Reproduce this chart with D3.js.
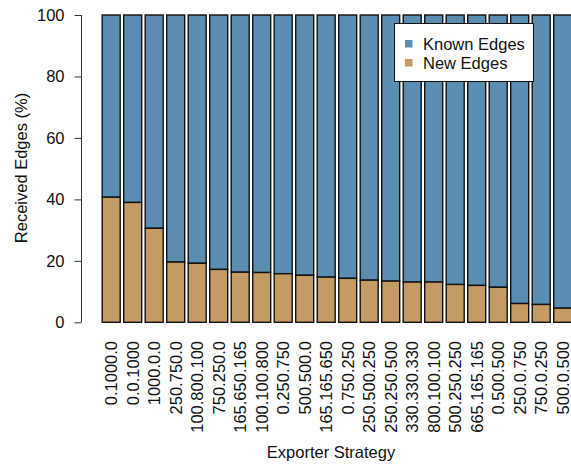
<!DOCTYPE html>
<html>
<head>
<meta charset="utf-8">
<script src="https://cdn.jsdelivr.net/npm/d3@7"></script>
<style>
  html, body { margin: 0; padding: 0; background: #fff; }
  svg { display: block; font-family: "Liberation Sans", Arial, sans-serif; }
</style>
</head>
<body>
<svg id="chart" width="571" height="464"></svg>
<script>
// Exporter strategies, ordered by share of new edges
const strategies = [
  "0.1000.0", "0.0.1000", "1000.0.0", "250.750.0", "100.800.100", "750.250.0",
  "165.650.165", "100.100.800", "0.250.750", "500.500.0", "165.165.650", "0.750.250",
  "250.500.250", "250.250.500", "330.330.330", "800.100.100", "500.250.250", "665.165.165",
  "0.500.500", "250.0.750", "750.0.250", "500.0.500"
];
// Percentage of received edges that were new
const newEdges = [
  40.7, 39.0, 30.6, 19.6, 19.2, 17.2,
  16.3, 16.2, 15.8, 15.3, 14.7, 14.3,
  13.7, 13.4, 13.1, 13.1, 12.3, 12.0,
  11.4, 6.1, 5.8, 4.6
];
// Remaining share: edges already known
const knownEdges = newEdges.map(v => 100 - v);
const yTicks = [0, 20, 40, 60, 80, 100];
const seriesNames = ["Known Edges", "New Edges"];
const seriesColors = ["#5b8db1", "#c49a65"];
const FONT = 16.5;

const svg = d3.select("#chart");

const x = d3.scaleBand()
  .domain(strategies)
  .range([102.2, 571.7])
  .paddingInner(0.163)
  .paddingOuter(0);

const y = d3.scaleLinear().domain([0, 100]).range([322.3, 15]);

// Stacked bars: new edges at the bottom, known edges on top
const rows = strategies.map((s, i) => ({ s, n: newEdges[i], k: knownEdges[i] }));

const bars = svg.append("g");
bars.selectAll("rect.known")
  .data(rows)
  .join("rect")
  .attr("class", "known")
  .attr("x", d => x(d.s))
  .attr("width", x.bandwidth())
  .attr("y", d => y(d.n + d.k))
  .attr("height", d => y(d.n) - y(d.n + d.k))
  .attr("fill", seriesColors[0])
  .attr("stroke", "#111")
  .attr("stroke-width", 1.4);

bars.selectAll("rect.new")
  .data(rows)
  .join("rect")
  .attr("class", "new")
  .attr("x", d => x(d.s))
  .attr("width", x.bandwidth())
  .attr("y", d => y(d.n))
  .attr("height", d => y(0) - y(d.n))
  .attr("fill", seriesColors[1])
  .attr("stroke", "#111")
  .attr("stroke-width", 1.4);

// Y axis
const yAxis = svg.append("g")
  .attr("transform", "translate(81.5,0)")
  .call(d3.axisLeft(y).tickValues(yTicks).tickSize(7).tickPadding(10).tickFormat(d3.format("d")));
yAxis.selectAll("path, line").attr("stroke", "#333").attr("stroke-width", 1);
yAxis.select(".domain").attr("d", `M0,${y(0)}V${y(100)}`);
yAxis.selectAll("text").attr("font-size", FONT).attr("fill", "#111")
  .attr("font-family", "Liberation Sans, Arial, sans-serif");

svg.append("text")
  .attr("transform", "translate(27,168) rotate(-90)")
  .attr("text-anchor", "middle")
  .attr("font-size", FONT)
  .attr("fill", "#111")
  .text("Received Edges (%)");

// X category labels, rotated
svg.append("g").selectAll("text")
  .data(strategies)
  .join("text")
  .attr("transform", d => `translate(${x(d) + x.bandwidth() / 2 + 0.5},341) rotate(-90)`)
  .attr("text-anchor", "end")
  .attr("dy", "0.35em")
  .attr("font-size", FONT)
  .attr("fill", "#111")
  .text(d => d);

svg.append("text")
  .attr("x", 331)
  .attr("y", 458)
  .attr("text-anchor", "middle")
  .attr("font-size", FONT)
  .attr("fill", "#111")
  .text("Exporter Strategy");

// Legend
const legend = svg.append("g");
legend.append("rect")
  .attr("x", 394.5).attr("y", 23.5)
  .attr("width", 139).attr("height", 58)
  .attr("fill", "#fff").attr("stroke", "#111").attr("stroke-width", 1);
seriesNames.forEach((name, i) => {
  legend.append("rect")
    .attr("x", 405).attr("y", 40 + i * 19)
    .attr("width", 7.5).attr("height", 7.5)
    .attr("fill", seriesColors[i]);
  legend.append("text")
    .attr("x", 423).attr("y", 49.5 + i * 19)
    .attr("font-size", FONT)
    .attr("fill", "#111")
    .text(name);
});
</script>
</body>
</html>
